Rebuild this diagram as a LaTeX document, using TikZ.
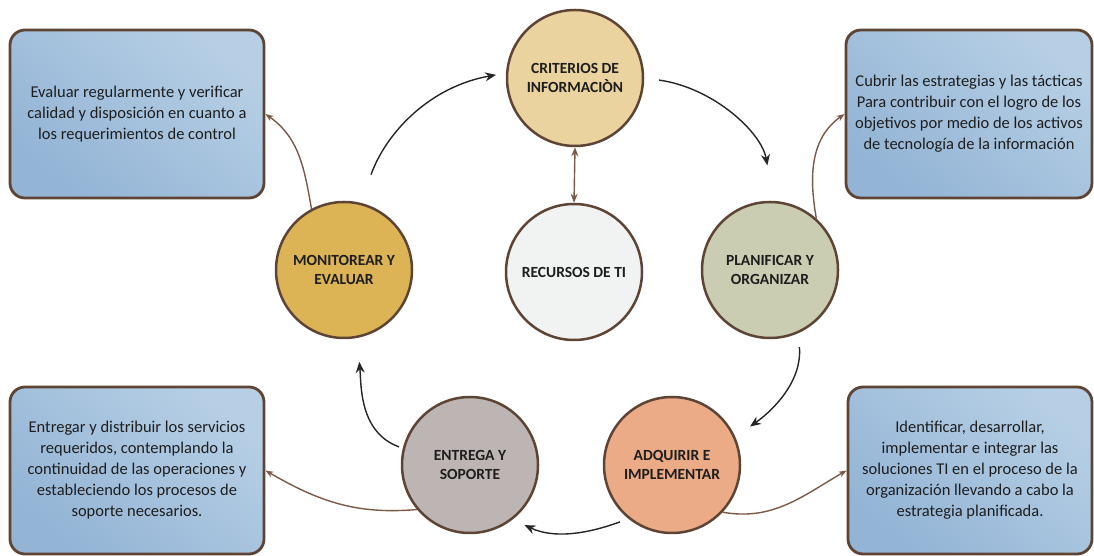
\documentclass[tikz,border=0pt]{standalone}
\usepackage{fontspec}
\setmainfont{Carlito}
\usetikzlibrary{arrows.meta}
\definecolor{rim}{HTML}{5E4434}
\definecolor{link}{HTML}{7A5949}
\definecolor{boxlight}{HTML}{B6CFE5}
\definecolor{boxdark}{HTML}{93B4D5}
\definecolor{critfill}{HTML}{EAD39F}
\definecolor{recfill}{HTML}{F1F2F2}
\definecolor{monfill}{HTML}{DCB455}
\definecolor{planfill}{HTML}{CBCDB2}
\definecolor{adqfill}{HTML}{EAAB86}
\definecolor{entfill}{HTML}{BDB5B3}
\definecolor{ink}{HTML}{1E1E1E}
\tikzset{
  phase/.style={circle, draw=rim, line width=2.5pt, minimum size=136pt, inner sep=0pt,
    align=center, text=ink, font=\bfseries\fontsize{15.5}{18.5}\selectfont},
  note/.style={draw=rim, line width=2.8pt, rounded corners=15pt, inner sep=0pt,
    top color=boxlight, bottom color=boxdark, shading angle=-40,
    align=center, text=ink, font=\fontsize{16.5}{21}\selectfont},
  cycle/.style={line width=1.4pt, black!85, -{Stealth[length=11pt,width=9pt]}},
  tie/.style={line width=1.4pt, link, -{Stealth[length=8pt,width=6pt]}}
}
\begin{document}
\begin{tikzpicture}[x=1pt,y=1pt]
\useasboundingbox (0,0) rectangle (1094,556);

% process circles
\node[phase, fill=critfill] (crit) at (575,478) {CRITERIOS DE\\INFORMACIÒN};
\node[phase, fill=recfill]  (rec)  at (574,284) {RECURSOS DE TI};
\node[phase, fill=monfill]  (mon)  at (344,286) {MONITOREAR Y\\EVALUAR};
\node[phase, fill=planfill] (plan) at (770,286) {PLANIFICAR Y\\ORGANIZAR};
\node[phase, fill=adqfill]  (adq)  at (672,91)  {ADQUIRIR E\\IMPLEMENTAR};
\node[phase, fill=entfill]  (ent)  at (470,91)  {ENTREGA Y\\SOPORTE};

% description boxes
\node[note, minimum width=254pt, minimum height=168pt] (tl) at (137,442)
  {Evaluar regularmente y verificar\\calidad y disposición en cuanto a\\los requerimientos de control};
\node[note, minimum width=246pt, minimum height=168pt] (tr) at (969,442)
  {Cubrir las estrategias y las tácticas\\Para contribuir con el logro de los\\objetivos por medio de los activos\\de tecnología de la información};
\node[note, minimum width=254pt, minimum height=167pt] (bl) at (137,85.5)
  {Entregar y distribuir los servicios\\requeridos, contemplando la\\continuidad de las operaciones y\\estableciendo los procesos de\\soporte necesarios.};
\node[note, minimum width=244pt, minimum height=167pt] (br) at (970,85.5)
  {Identificar, desarrollar,\\implementar e integrar las\\soluciones TI en el proceso de la\\organización llevando a cabo la\\estrategia planificada.};

% outer cycle
\draw[cycle, shorten <=30pt, shorten >=10pt] (mon.76) to[out=70, in=190] (crit.176);
\draw[cycle, shorten <=15pt, shorten >=36pt] (crit.0) to[out=-8, in=100] (plan.87);
\draw[cycle, shorten <=14pt, shorten >=18pt] (plan.-66) to[out=-85, in=35] (adq.24);
\draw[cycle, shorten <=9pt, shorten >=13pt] (adq.-129) to[out=-160, in=-25] (ent.-52);
\draw[cycle, shorten <=4pt, shorten >=24pt] (ent.166) to[out=160, in=-85] (mon.-79);

% links to the descriptions
\draw[tie] (mon.118) to[out=100, in=-35] (tl.east);
\draw[tie] (plan.48) to[out=100, in=-145] (tr.west);
\draw[tie] (ent.-140) to[out=185, in=-30] (bl.east);
\draw[tie] (adq.-43) to[out=-10, in=-150] (br.west);
\draw[tie, {Stealth[length=9pt,width=7pt]}-{Stealth[length=9pt,width=7pt]}] (crit.south) -- (rec.north);
\end{tikzpicture}
\end{document}
